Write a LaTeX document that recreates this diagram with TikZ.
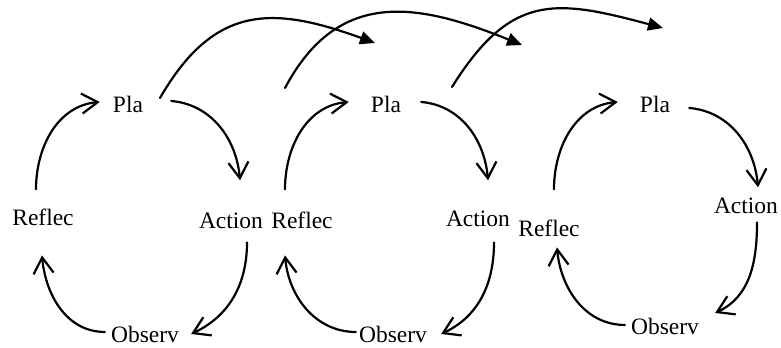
\documentclass[tikz,border=0pt]{standalone}
\usepackage{fontspec}
\setmainfont{Liberation Serif}
\usetikzlibrary{arrows.meta}
\begin{document}
\begin{tikzpicture}[x=1bp,y=1bp,
  lbl/.style={anchor=base,inner sep=0pt,font=\fontsize{23.5bp}{28bp}\selectfont},
  cyc/.style={line width=2.2bp,line cap=round,-{Straight Barb[length=16bp,width=20bp,line width=2.2bp]}},
  big/.style={line width=2.2bp,line cap=round,-{Triangle[length=15bp,width=13bp]}}]
\useasboundingbox (0,0) rectangle (781,347);
% cycle 1
\node[lbl] (P1) at (128,235) {Pla};
\node[lbl] (R1) at (43,122) {Reflec};
\node[lbl] (A1) at (231,119) {Action};
\node[lbl] (O1) at (145,5) {Observ};
% cycle 2
\node[lbl] (P2) at (386,235) {Pla};
\node[lbl] (R2) at (302,119) {Reflec};
\node[lbl] (A2) at (478,121) {Action};
\node[lbl] (O2) at (393,5) {Observ};
% cycle 3
\node[lbl] (P3) at (655,235) {Pla};
\node[lbl] (R3) at (549,111) {Reflec};
\node[lbl] (A3) at (746,134) {Action};
\node[lbl] (O3) at (665,13) {Observ};
% cycle 1 arrows
\draw[cyc] ([shift={(-7,19)}]R1.north) to[out=90,in=185] ([shift={(-13,2)}]P1.west);
\draw[cyc] ([shift={(28,3)}]P1.east) to[out=-5,in=95] ([shift={(9,32)}]A1.north);
\draw[cyc] ([shift={(16,-14)}]A1.south) to[out=-90,in=25] ([shift={(12,0)}]O1.east);
\draw[cyc] ([shift={(-6,2)}]O1.west) to[out=180,in=-85] ([shift={(-1,-30)}]R1.south);
% cycle 2 arrows
\draw[cyc] ([shift={(-17,22)}]R2.north) to[out=90,in=185] ([shift={(-22,2)}]P2.west);
\draw[cyc] ([shift={(20,2)}]P2.east) to[out=-5,in=95] ([shift={(10,30)}]A2.north);
\draw[cyc] ([shift={(16,-16)}]A2.south) to[out=-90,in=25] ([shift={(14,0)}]O2.east);
\draw[cyc] ([shift={(-3,2)}]O2.west) to[out=180,in=-85] ([shift={(-17,-27)}]R2.south);
% cycle 3 arrows
\draw[cyc] ([shift={(5,30)}]R3.north) to[out=90,in=185] ([shift={(-22,2)}]P3.west);
\draw[cyc] ([shift={(19,-4)}]P3.east) to[out=-5,in=95] ([shift={(12,10)}]A3.north);
\draw[cyc] ([shift={(11,-9)}]A3.south) to[out=-90,in=25] ([shift={(16,13)}]O3.east);
\draw[cyc] ([shift={(-6,1)}]O3.west) to[out=180,in=-85] ([shift={(8,-11)}]R3.south);
% big arcs
\coordinate (b1s) at (160,249);
\coordinate (b1e) at (375,304);
\coordinate (b2s) at (285,259);
\coordinate (b2e) at (522,302);
\coordinate (b3s) at (452,260);
\coordinate (b3e) at (663,319);
\draw[big] (b1s) to[out=60,in=160,looseness=1.25] (b1e);
\draw[big] (b2s) to[out=62,in=158,looseness=1.2] (b2e);
\draw[big] (b3s) to[out=58,in=165,looseness=1.3] (b3e);
\end{tikzpicture}
\end{document}
